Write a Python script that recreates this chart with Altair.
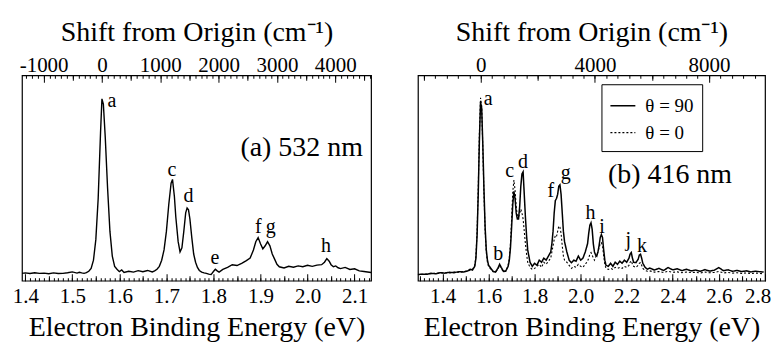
import altair as alt
import pandas as pd

FONT = "Liberation Serif, Times New Roman, Times, serif"
CM_PER_EV = 8065.54

# ---------------- panel (a) 532 nm ----------------
a_ev = [1.393, 1.400, 1.410, 1.420, 1.430, 1.440, 1.450, 1.460, 1.470, 1.480,
        1.490, 1.500, 1.510, 1.515, 1.520, 1.525, 1.530, 1.535, 1.540, 1.545,
        1.550, 1.555, 1.560, 1.563, 1.566, 1.570, 1.575, 1.580, 1.585, 1.590,
        1.595, 1.600, 1.605, 1.610, 1.620, 1.630, 1.640, 1.650, 1.660, 1.670,
        1.675, 1.680, 1.685, 1.690, 1.695, 1.700, 1.705, 1.710, 1.713, 1.717,
        1.720, 1.725, 1.729, 1.733, 1.737, 1.741, 1.744, 1.747, 1.750, 1.754,
        1.758, 1.762, 1.766, 1.770, 1.775, 1.780, 1.785, 1.790, 1.795, 1.800,
        1.804, 1.808, 1.812, 1.820, 1.830, 1.840, 1.850, 1.860, 1.870, 1.878,
        1.885, 1.890, 1.895, 1.900, 1.905, 1.910, 1.915, 1.920, 1.925, 1.930,
        1.935, 1.940, 1.950, 1.960, 1.970, 1.980, 1.990, 2.000, 2.010, 2.020,
        2.030, 2.036, 2.041, 2.046, 2.050, 2.055, 2.060, 2.065, 2.070, 2.080,
        2.090, 2.100, 2.110, 2.120, 2.135]
a_int = [3.6, 3.8, 3.5, 3.9, 3.6, 3.7, 3.4, 3.8, 3.5, 3.6,
         3.9, 4.3, 3.7, 4.1, 3.8, 3.6, 3.9, 4.6, 6.0, 10.0,
         20.0, 40.0, 72.0, 88.5, 86.0, 70.0, 45.0, 24.0, 12.0, 7.0,
         5.6, 4.4, 5.2, 4.0, 4.6, 4.2, 4.9, 4.4, 5.0, 4.3,
         4.8, 5.6, 7.0, 10.0, 15.0, 24.0, 37.0, 47.5, 49.3, 41.0,
         31.0, 19.0, 14.0, 16.0, 24.0, 33.0, 35.4, 34.5, 30.0, 21.0,
         13.0, 9.0, 6.5, 5.0, 4.2, 3.8, 3.6, 3.2, 3.0, 4.5,
         5.6, 4.8, 4.2, 5.5, 6.5, 7.8, 7.4, 8.5, 9.8, 11.0,
         15.0, 19.0, 21.0, 18.0, 15.5, 17.0, 19.0, 17.0, 13.0, 10.5,
         8.0, 6.8, 6.2, 7.0, 6.6, 7.2, 6.8, 7.5, 7.0, 7.6,
         7.8, 9.0, 10.8, 9.5, 7.8, 6.8, 7.2, 6.3, 5.9, 6.5,
         5.5, 5.8, 4.8, 4.5, 4.0]
a_peak_names = ["a", "c", "d", "e", "f", "g", "h"]
a_peak_ev = [1.584, 1.7115, 1.7468, 1.8034, 1.8954, 1.9217, 2.039]
a_peak_val = [84.5, 51.0, 38.2, 8.0, 23.0, 23.0, 14.0]
a_title_text = ["(a) 532 nm"]
a_title_ev = [2.1176]
a_title_val = [60.7]
a_ev_domain = [1.393, 2.135]
a_origin_ev = 1.563
a_ev_major = [1.4, 1.5, 1.6, 1.7, 1.8, 1.9, 2.0, 2.1]
a_ev_mid = [1.45, 1.55, 1.65, 1.75, 1.85, 1.95, 2.05]
a_ev_minor = [round(1.40 + 0.01 * i, 2) for i in range(74)]
a_cm_major = [-1000, 0, 1000, 2000, 3000, 4000]
a_cm_mid = [-500, 500, 1500, 2500, 3500, 4500]
a_cm_minor = [-1300 + 100 * i for i in range(60)]

# ---------------- panel (b) 416 nm ----------------
b_ev = [1.29, 1.31, 1.33, 1.35, 1.37, 1.39, 1.41, 1.43, 1.45, 1.47,
        1.49, 1.51, 1.52, 1.53, 1.54, 1.545, 1.55, 1.555, 1.56, 1.565,
        1.57, 1.575, 1.58, 1.585, 1.59, 1.595, 1.60, 1.61, 1.62, 1.63,
        1.64, 1.648, 1.655, 1.665, 1.675, 1.685, 1.69, 1.695, 1.70, 1.705,
        1.71, 1.715, 1.72, 1.725, 1.73, 1.735, 1.74, 1.745, 1.75, 1.755,
        1.76, 1.765, 1.77, 1.78, 1.79, 1.80, 1.81, 1.82, 1.83, 1.84,
        1.85, 1.86, 1.87, 1.875, 1.88, 1.885, 1.89, 1.895, 1.90, 1.905,
        1.91, 1.915, 1.92, 1.925, 1.93, 1.94, 1.95, 1.96, 1.97, 1.98,
        1.99, 2.00, 2.01, 2.02, 2.03, 2.035, 2.04, 2.045, 2.05, 2.055,
        2.06, 2.065, 2.07, 2.075, 2.08, 2.085, 2.09, 2.095, 2.10, 2.105,
        2.11, 2.12, 2.13, 2.14, 2.15, 2.16, 2.17, 2.18, 2.19, 2.20,
        2.21, 2.215, 2.22, 2.225, 2.23, 2.24, 2.25, 2.255, 2.26, 2.265,
        2.27, 2.28, 2.29, 2.30, 2.32, 2.34, 2.36, 2.38, 2.40, 2.42,
        2.44, 2.46, 2.48, 2.50, 2.52, 2.54, 2.56, 2.58, 2.60, 2.62,
        2.64, 2.66, 2.68, 2.70, 2.72, 2.74, 2.76, 2.795]
b_int_90 = [3.0, 3.2, 3.1, 3.6, 3.4, 3.9, 3.7, 4.1, 3.9, 4.4,
            4.2, 4.8, 5.6, 5.2, 7.0, 11.0, 22.0, 42.0, 68.0, 87.0,
            84.0, 66.0, 44.0, 26.0, 15.0, 10.0, 7.5, 6.0, 4.5, 4.2,
            6.0, 8.0, 6.5, 4.5, 4.8, 7.0, 10.0, 16.0, 26.0, 37.0,
            43.5, 40.0, 33.0, 30.0, 30.0, 36.0, 46.0, 52.0, 53.0, 42.0,
            31.0, 22.0, 15.0, 9.0, 7.0, 8.5, 7.5, 10.0, 9.0, 11.0,
            10.0, 12.0, 14.0, 18.0, 24.0, 33.0, 39.0, 40.0, 42.0, 46.0,
            46.7, 42.0, 33.0, 24.0, 19.0, 14.0, 10.0, 8.8, 10.0, 9.5,
            12.0, 10.0, 11.0, 14.0, 18.0, 23.0, 27.0, 28.2, 25.0, 18.0,
            14.0, 12.5, 12.0, 14.0, 17.0, 21.0, 22.5, 21.0, 15.0, 10.0,
            7.5, 7.0, 8.5, 7.0, 9.0, 8.0, 9.5, 8.5, 10.0, 9.0,
            11.0, 13.0, 13.7, 11.0, 9.0, 8.8, 10.5, 12.5, 12.9, 11.0,
            8.5, 6.5, 5.6, 6.2, 5.2, 6.0, 5.0, 6.4, 5.3, 5.8,
            4.9, 5.6, 4.8, 5.2, 4.6, 5.4, 4.7, 5.1, 6.4, 4.9,
            5.3, 4.6, 5.0, 4.5, 4.8, 4.3, 4.6, 4.2]
b_int_0 = [3.0, 3.1, 3.3, 3.4, 3.6, 3.7, 3.9, 3.8, 4.2, 4.1,
           4.5, 4.6, 5.2, 5.4, 7.5, 12.0, 24.0, 45.0, 72.0, 89.0,
           85.0, 64.0, 42.0, 24.0, 14.0, 9.0, 7.0, 5.5, 4.5, 4.3,
           5.5, 7.5, 6.0, 4.2, 4.6, 7.5, 11.0, 18.0, 30.0, 43.0,
           49.0, 44.0, 36.0, 31.5, 31.0, 33.0, 34.8, 33.0, 30.0, 24.0,
           18.0, 13.0, 9.0, 6.5, 5.5, 6.0, 7.0, 8.0, 6.5, 9.0,
           8.0, 9.5, 11.0, 14.0, 17.0, 20.0, 22.0, 21.5, 24.0, 26.6,
           26.0, 23.0, 17.0, 12.0, 10.0, 9.0, 7.5, 6.0, 7.0, 6.5,
           8.0, 7.0, 6.5, 8.0, 9.5, 11.0, 13.0, 13.7, 12.5, 11.0,
           10.0, 11.5, 12.5, 14.0, 16.0, 18.0, 18.5, 17.0, 12.0, 8.0,
           6.0, 5.5, 6.0, 5.5, 6.5, 6.0, 6.5, 6.0, 7.0, 6.5,
           7.5, 9.0, 9.7, 8.0, 7.0, 6.5, 7.5, 8.5, 8.8, 7.5,
           6.0, 5.0, 4.6, 4.8, 4.2, 4.5, 4.0, 4.6, 4.1, 4.3,
           3.9, 4.2, 4.0, 4.1, 3.8, 4.2, 3.9, 4.0, 4.5, 3.8,
           4.0, 3.7, 3.9, 3.6, 3.8, 3.5, 3.7, 3.4]
b_series = ["θ = 90", "θ = 0"]
b_peak_names = ["a", "b", "c", "d", "f", "g", "h", "i", "j", "k"]
b_peak_ev = [1.5987, 1.6416, 1.6918, 1.749, 1.8708, 1.9352, 2.0425, 2.0923, 2.2069, 2.267]
b_peak_val = [85.7, 10.0, 50.7, 55.0, 40.6, 49.4, 30.0, 23.0, 17.0, 14.0]
b_title_text = ["(b) 416 nm"]
b_title_ev = [2.6575]
b_title_val = [47.8]
b_ev_domain = [1.293, 2.801]
b_origin_ev = 1.566
b_ev_major = [1.4, 1.6, 1.8, 2.0, 2.2, 2.4, 2.6, 2.8]
b_ev_mid = [1.3, 1.5, 1.7, 1.9, 2.1, 2.3, 2.5, 2.7]
b_ev_minor = [round(1.30 + 0.02 * i, 2) for i in range(76)]
b_cm_major = [0, 4000, 8000]
b_cm_mid = [-2000, 2000, 6000]
b_cm_minor = [-2000 + 400 * i for i in range(31)]

assert len(a_ev) == len(a_int)
assert len(b_ev) == len(b_int_90) == len(b_int_0)

H = 206
W_A = 350
W_B = 348
SPACING = 45
Y_DOMAIN = [0, 100]


def axis_layer(domain, values, orient, size=0, offset=0, labels=False,
               label_expr=None, label_pad=0, title=None, title_pad=0, extra=None):
    kw = dict(orient=orient, values=values, domain=False, grid=False,
              ticks=size > 0, tickSize=size, tickColor="black", tickWidth=1,
              labels=labels, offset=offset, title=title)
    if labels:
        kw.update(labelFont=FONT, labelFontSize=21, labelColor="black",
                  labelPadding=label_pad, labelExpr=label_expr,
                  labelOverlap=False, labelFlush=False)
    if title:
        kw.update(titleFont=FONT, titleFontSize=28, titleFontWeight="normal",
                  titleColor="black", titlePadding=title_pad)
    if extra:
        kw.update(extra)
    df = pd.DataFrame({"v": [(domain[0] + domain[1]) / 2]})
    return alt.Chart(df).mark_point(opacity=0, size=1).encode(
        x=alt.X("v:Q", scale=alt.Scale(domain=domain, nice=False, zero=False),
                axis=alt.Axis(**kw))
    )


def axes_for(ev_domain, origin, ev_major, ev_mid, ev_minor, cm_major, cm_mid, cm_minor,
             bottom_extra=None):
    cm_domain = [(ev_domain[0] - origin) * CM_PER_EV, (ev_domain[1] - origin) * CM_PER_EV]
    return [
        axis_layer(ev_domain, ev_major, "bottom", labels=True,
                   label_expr="format(datum.value, '.1f')", label_pad=5,
                   title="Electron Binding Energy (eV)", title_pad=7, extra=bottom_extra),
        axis_layer(ev_domain, ev_major, "top", size=7, offset=-H),
        axis_layer(ev_domain, ev_mid, "top", size=5, offset=-H),
        axis_layer(ev_domain, ev_minor, "top", size=3, offset=-H),
        axis_layer(cm_domain, cm_major, "top", labels=True,
                   label_expr="'' + datum.value", label_pad=0,
                   title="Shift from Origin (cm⁻¹)", title_pad=8),
        axis_layer(cm_domain, cm_major, "bottom", size=7, offset=-H),
        axis_layer(cm_domain, cm_mid, "bottom", size=5, offset=-H),
        axis_layer(cm_domain, cm_minor, "bottom", size=3, offset=-H),
    ]


def xenc(domain):
    return alt.X("ev:Q", scale=alt.Scale(domain=domain, nice=False, zero=False), axis=None)


YENC = alt.Y("val:Q", scale=alt.Scale(domain=Y_DOMAIN, nice=False, zero=False), axis=None)

# ---- panel a
a_df = pd.DataFrame({"ev": a_ev, "val": a_int})
a_line = alt.Chart(a_df).mark_line(color="black", strokeWidth=1.4, clip=True).encode(
    x=xenc(a_ev_domain), y=YENC)
a_lbl = alt.Chart(pd.DataFrame({"ev": a_peak_ev, "val": a_peak_val, "t": a_peak_names})).mark_text(
    font=FONT, fontSize=20, color="black", align="center", baseline="alphabetic").encode(
    x=xenc(a_ev_domain), y=YENC, text="t:N")
a_ann = alt.Chart(pd.DataFrame({"ev": a_title_ev, "val": a_title_val, "t": a_title_text})).mark_text(
    font=FONT, fontSize=28, color="black", align="right", baseline="alphabetic").encode(
    x=xenc(a_ev_domain), y=YENC, text="t:N")
panel_a = alt.layer(
    a_line, a_lbl, a_ann,
    *axes_for(a_ev_domain, a_origin_ev, a_ev_major, a_ev_mid, a_ev_minor,
              a_cm_major, a_cm_mid, a_cm_minor)
).resolve_scale(x="independent").properties(width=W_A, height=H)

# ---- panel b
b_df = pd.DataFrame({
    "ev": b_ev + b_ev,
    "val": b_int_90 + b_int_0,
    "series": [b_series[0]] * len(b_ev) + [b_series[1]] * len(b_ev),
})
b_line = alt.Chart(b_df).mark_line(color="black", clip=True).encode(
    x=xenc(b_ev_domain), y=YENC,
    strokeDash=alt.StrokeDash(
        "series:N",
        scale=alt.Scale(domain=b_series, range=[[1, 0], [2, 2]]),
        legend=alt.Legend(orient="none", legendX=W_A + SPACING + 186, legendY=9, title=None,
                          direction="vertical", strokeColor="black", fillColor="white",
                          padding=8, cornerRadius=0, labelFont=FONT, labelFontSize=19,
                          labelColor="black", symbolType="stroke", symbolSize=625,
                          symbolStrokeWidth=1.3, symbolStrokeColor="black",
                          rowPadding=3, labelOffset=9)),
    strokeWidth=alt.StrokeWidth("series:N", scale=alt.Scale(domain=b_series, range=[1.5, 1.1]),
                                legend=None),
)
b_lbl = alt.Chart(pd.DataFrame({"ev": b_peak_ev, "val": b_peak_val, "t": b_peak_names})).mark_text(
    font=FONT, fontSize=20, color="black", align="center", baseline="alphabetic").encode(
    x=xenc(b_ev_domain), y=YENC, text="t:N")
b_ann = alt.Chart(pd.DataFrame({"ev": b_title_ev, "val": b_title_val, "t": b_title_text})).mark_text(
    font=FONT, fontSize=28, color="black", align="right", baseline="alphabetic").encode(
    x=xenc(b_ev_domain), y=YENC, text="t:N")
panel_b = alt.layer(
    b_line, b_lbl, b_ann,
    *axes_for(b_ev_domain, b_origin_ev, b_ev_major, b_ev_mid, b_ev_minor,
              b_cm_major, b_cm_mid, b_cm_minor,
              bottom_extra={"labelFlush": 2, "labelFlushOffset": 6})
).resolve_scale(x="independent").properties(width=W_B, height=H)

chart = alt.hconcat(panel_a, panel_b, spacing=SPACING).properties(
    padding={"left": 3, "top": 9, "right": 0, "bottom": 0},
    background="white",
).configure_view(stroke="black", strokeWidth=1.2)

chart.save("out.html", embed_options={"renderer": "svg", "actions": False})
